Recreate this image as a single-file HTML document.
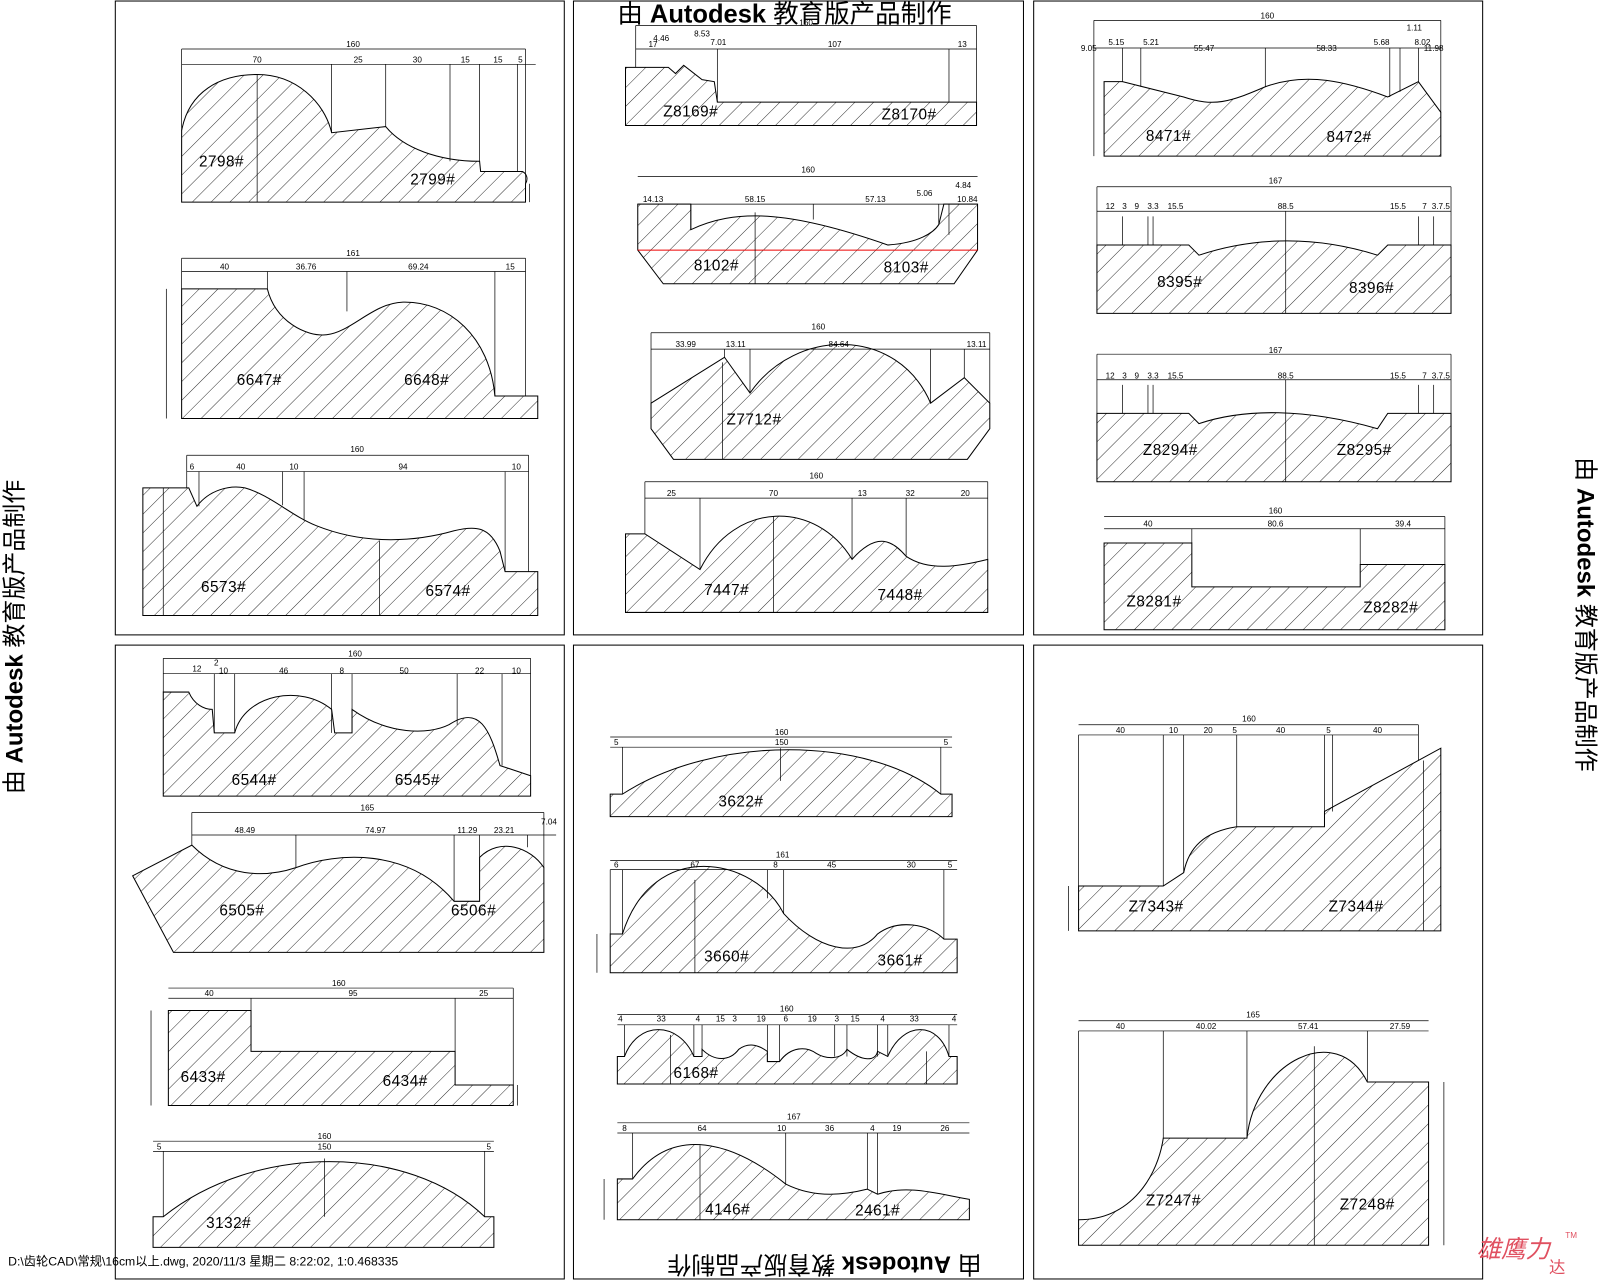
<!DOCTYPE html>
<html><head><meta charset="utf-8"><style>
html,body{margin:0;padding:0;background:#fff;width:1600px;height:1280px;overflow:hidden}
svg{display:block}
text{font-family:"Liberation Sans","Noto Sans CJK SC",sans-serif;fill:#000}
.l{font-size:15px;letter-spacing:0.5px}
.d{font-size:8px}
</style></head><body>
<svg width="1600" height="1280" viewBox="0 0 1568 1254" preserveAspectRatio="none" xmlns="http://www.w3.org/2000/svg">
<defs>
<pattern id="h" width="13" height="13" patternUnits="userSpaceOnUse" patternTransform="rotate(45)">
<line x1="0" y1="0" x2="0" y2="13" stroke="#000" stroke-width="0.8"/>
</pattern>
</defs>
<g fill="none" stroke="#000" stroke-width="1">
<rect x="113" y="1" width="440" height="621"/>
<rect x="562" y="1" width="441" height="621"/>
<rect x="1013" y="1" width="440" height="621"/>
<rect x="113" y="632" width="440" height="621"/>
<rect x="562" y="632" width="441" height="621"/>
<rect x="1013" y="632" width="440" height="621"/>
</g>

<g fill="url(#h)" stroke="#000" stroke-width="1">
<path d="M178,198 L178,128 C185,90 215,73 252,73 C290,73 318,100 325,130 L378,124 C395,145 430,158 470,158 L471,168 L512,168 C516,170 518,175 515,180 L515,198 Z"/>
<path d="M178,410 L178,283 L262,283 C270,315 300,330 320,328 C345,325 365,297 395,296 C440,295 480,330 485,388 L527,388 L527,410 Z"/>
<path d="M140,603 L140,478 L185,478 L193,496 C205,480 225,475 240,478 C265,485 285,505 310,515 C360,535 410,530 445,520 C465,515 480,515 490,540 L495,560 L527,560 L527,603 Z"/>
<path d="M613,123 L613,66 L655,66 L662,72 L670,64 L688,78 L700,80 L703,100 L930,100 L930,100 L957,100 L957,123 Z"/>
<path d="M625,245 L625,200 L677,200 L677,225 C720,205 770,205 870,240 C900,238 915,228 920,220 L925,200 L958,200 L958,245 L935,278 L650,278 Z"/>
<path d="M638,420 L638,395 L710,350 L735,385 C780,320 880,320 912,395 L945,370 L970,395 L970,420 L948,450 L660,450 Z"/>
<path d="M613,600 L613,523 L632,523 L686,558 C720,490 800,490 835,548 C860,520 875,530 888,545 C910,560 940,555 968,548 L968,600 Z"/>
<path d="M1082,153 L1082,80 L1100,80 L1160,95 C1190,105 1205,100 1240,85 C1280,70 1320,80 1360,95 L1390,80 L1412,110 L1412,153 Z"/>
<path d="M1075,307 L1075,240 L1165,240 L1175,250 C1220,235 1280,228 1350,250 L1360,240 L1422,240 L1422,307 Z"/>
<path d="M1075,472 L1075,405 L1165,405 L1175,415 C1220,400 1280,400 1350,420 L1360,405 L1422,405 L1422,472 Z"/>
<path d="M1082,617 L1082,532 L1168,532 L1168,575 L1333,575 L1333,553 L1416,553 L1416,617 Z"/>
<path d="M160,780 L160,678 L185,678 C190,690 200,695 208,695 L210,718 L230,718 C240,680 295,670 325,695 L328,718 L345,718 L345,695 C380,720 420,720 440,710 C470,690 480,715 490,750 L520,760 L520,780 Z"/>
<path d="M130,858 L188,828 C220,860 260,860 290,850 C330,835 400,830 445,883 L470,883 L470,840 C490,820 520,830 533,850 L533,933 L170,933 Z"/>
<path d="M165,1083 L165,990 L246,990 L246,1030 L446,1030 L446,1063 L503,1063 L503,1083 Z"/>
<path d="M150,1222 L150,1192 L160,1192 C250,1120 400,1120 475,1192 L484,1192 L484,1222 Z"/>
<path d="M598,800 L598,778 L610,778 C700,720 850,720 922,778 L933,778 L933,800 Z"/>
<path d="M598,953 L598,915 L610,915 C640,820 740,840 768,895 C800,930 840,940 860,915 C880,900 910,905 925,920 L938,920 L938,953 Z"/>
<path d="M605,1062 L605,1035 L612,1035 C625,1000 665,1000 680,1035 L688,1035 L688,1028 C700,1040 715,1040 724,1028 C735,1020 745,1025 752,1030 L752,1040 L764,1040 C775,1025 790,1025 800,1032 C810,1038 825,1038 830,1028 C845,1040 858,1040 860,1030 L870,1035 C885,1000 920,1000 930,1035 L938,1035 L938,1062 Z"/>
<path d="M605,1195 L605,1155 L620,1155 C660,1100 720,1120 770,1160 C800,1175 830,1170 850,1165 L860,1170 C890,1160 920,1170 950,1175 L950,1195 Z"/>
<path d="M1057,912 L1057,868 L1140,868 L1160,855 C1165,830 1180,815 1212,810 L1298,810 L1298,795 L1390,745 L1412,733 L1412,912 Z"/>
<path d="M1057,1220 L1057,1195 C1110,1195 1135,1150 1140,1115 L1222,1115 C1230,1040 1310,1000 1340,1060 L1400,1060 L1400,1220 Z"/>
</g>
<line x1="625" y1="245" x2="958" y2="245" stroke="#e00" stroke-width="1"/>

<g stroke="#000" stroke-width="0.7" fill="none">
<path d="M178,48H515 M178,63H525 M178,48V128 M515,48V198 M325,63V130 M378,63V124 M441,63V158 M470,63V158 M507,63V168 M252,73V198 M519,180V198"/>
<path d="M178,253H515 M178,266H515 M178,253V283 M515,253V388 M262,266V283 M340,266V305 M485,266V388 M163,283V410"/>
<path d="M183,446H518 M183,462H518 M183,446V478 M518,446V560 M195,462V496 M277,462V495 M298,462V510 M495,462V560 M160,478V603 M372,530V603"/>
<path d="M623,25H957 M623,48H957 M623,25V66 M957,25V100 M703,48V100 M930,48V100 M613,66V123"/>
<path d="M625,173H958 M625,200H958 M677,200V225 M797,200V215 M740,208V278 M920,200V220 M930,200V230"/>
<path d="M638,326H970 M638,342H970 M638,326V395 M970,326V395 M710,342V350 M735,342V385 M912,342V395 M945,342V370 M708,355V450"/>
<path d="M632,472H968 M632,488H968 M632,472V523 M968,472V548 M686,488V558 M835,488V548 M888,488V545 M758,506V600"/>
<path d="M1072,20H1412 M1072,47H1412 M1072,20V153 M1412,20V110 M1100,47V80 M1118,47V85 M1240,47V85 M1362,47V95 M1390,47V80 M1372,47V90"/>
<path d="M1075,183H1422 M1075,207H1422 M1075,183V240 M1422,183V240 M1260,207V307 M1100,212V240 M1125,212V240 M1130,212V240 M1390,212V240 M1405,212V240"/>
<path d="M1075,347H1422 M1075,372H1422 M1075,347V405 M1422,347V405 M1260,372V472 M1100,377V405 M1125,377V405 M1130,377V405 M1390,377V405 M1405,377V405"/>
<path d="M1082,506H1416 M1082,518H1416 M1168,518V532 M1333,518V553 M1416,506V553"/>
<path d="M160,645H520 M160,660H520 M160,645V678 M520,645V760 M210,660V718 M230,660V718 M325,660V718 M345,660V718 M448,660V710 M492,660V750"/>
<path d="M188,796H533 M188,818H545 M188,796V828 M533,796V850 M290,818V850 M445,818V883 M470,818V840 M517,818V830"/>
<path d="M165,968H503 M165,978H503 M246,978V990 M446,978V1030 M503,968V1063 M148,990V1083 M507,1063V1083"/>
<path d="M150,1118H484 M150,1128H484 M160,1128V1192 M475,1128V1192 M318,1135V1192"/>
<path d="M598,722H933 M598,732H933 M610,732V778 M922,732V778 M765,733V765"/>
<path d="M598,843H938 M598,852H938 M598,852V915 M610,852V915 M768,852V895 M752,852V880 M925,852V920 M681,862V953 M585,915V953"/>
<path d="M605,994H938 M605,1004H938 M612,1004V1035 M680,1004V1035 M688,1004V1035 M752,1004V1040 M764,1004V1040 M818,1004V1035 M830,1004V1035 M860,1004V1035 M870,1004V1035 M930,1004V1035 M657,1014V1062 M908,1030V1062"/>
<path d="M605,1100H950 M605,1110H950 M620,1110V1155 M770,1110V1160 M850,1110V1165 M860,1110V1170 M686,1122V1195 M592,1155V1195"/>
<path d="M1057,710H1390 M1057,720H1390 M1057,720V868 M1140,720V868 M1160,720V855 M1212,720V810 M1298,720V810 M1306,720V795 M1390,710V745 M1047,868V912 M1395,745V912"/>
<path d="M1057,1000H1400 M1057,1010H1400 M1057,1010V1195 M1140,1010V1115 M1222,1010V1115 M1340,1010V1060 M1288,1025V1220 M1415,1060V1220"/>
</g>

<g class="d" text-anchor="middle">
<text x="346" y="46">160</text><text x="252" y="61">70</text><text x="351" y="61">25</text><text x="409" y="61">30</text><text x="456" y="61">15</text><text x="488" y="61">15</text><text x="510" y="61">5</text>
<text x="346" y="251">161</text><text x="220" y="264">40</text><text x="300" y="264">36.76</text><text x="410" y="264">69.24</text><text x="500" y="264">15</text>
<text x="350" y="443">160</text><text x="188" y="460">6</text><text x="236" y="460">40</text><text x="288" y="460">10</text><text x="395" y="460">94</text><text x="506" y="460">10</text>
<text x="790" y="25">160</text><text x="640" y="46">17</text><text x="648" y="40">4.46</text><text x="688" y="36">8.53</text><text x="704" y="44">7.01</text><text x="818" y="46">107</text><text x="943" y="46">13</text>
<text x="792" y="169">160</text><text x="640" y="198">14.13</text><text x="740" y="198">58.15</text><text x="858" y="198">57.13</text><text x="906" y="192">5.06</text><text x="944" y="184">4.84</text><text x="948" y="198">10.84</text>
<text x="802" y="323">160</text><text x="672" y="340">33.99</text><text x="721" y="340">13.11</text><text x="822" y="340">84.64</text><text x="957" y="340">13.11</text>
<text x="800" y="469">160</text><text x="658" y="486">25</text><text x="758" y="486">70</text><text x="845" y="486">13</text><text x="892" y="486">32</text><text x="946" y="486">20</text>
<text x="1242" y="18">160</text><text x="1067" y="50">9.05</text><text x="1094" y="44">5.15</text><text x="1128" y="44">5.21</text><text x="1180" y="50">55.47</text><text x="1300" y="50">58.33</text><text x="1354" y="44">5.68</text><text x="1386" y="30">1.11</text><text x="1394" y="44">8.02</text><text x="1405" y="50">11.98</text>
<text x="1250" y="180">167</text><text x="1088" y="205">12</text><text x="1102" y="205">3</text><text x="1114" y="205">9</text><text x="1130" y="205">3.3</text><text x="1152" y="205">15.5</text><text x="1260" y="205">88.5</text><text x="1370" y="205">15.5</text><text x="1396" y="205">7</text><text x="1412" y="205">3.7.5</text>
<text x="1250" y="346">167</text><text x="1088" y="371">12</text><text x="1102" y="371">3</text><text x="1114" y="371">9</text><text x="1130" y="371">3.3</text><text x="1152" y="371">15.5</text><text x="1260" y="371">88.5</text><text x="1370" y="371">15.5</text><text x="1396" y="371">7</text><text x="1412" y="371">3.7.5</text>
<text x="1250" y="503">160</text><text x="1125" y="516">40</text><text x="1250" y="516">80.6</text><text x="1375" y="516">39.4</text>
<text x="348" y="643">160</text><text x="193" y="658">12</text><text x="212" y="652">2</text><text x="219" y="660">10</text><text x="278" y="660">46</text><text x="335" y="660">8</text><text x="396" y="660">50</text><text x="470" y="660">22</text><text x="506" y="660">10</text>
<text x="360" y="794">165</text><text x="240" y="816">48.49</text><text x="368" y="816">74.97</text><text x="458" y="816">11.29</text><text x="494" y="816">23.21</text><text x="538" y="808">7.04</text>
<text x="332" y="966">160</text><text x="205" y="976">40</text><text x="346" y="976">95</text><text x="474" y="976">25</text>
<text x="318" y="1116">160</text><text x="156" y="1126">5</text><text x="318" y="1126">150</text><text x="479" y="1126">5</text>
<text x="766" y="720">160</text><text x="604" y="730">5</text><text x="766" y="730">150</text><text x="927" y="730">5</text>
<text x="767" y="840">161</text><text x="604" y="850">6</text><text x="681" y="850">67</text><text x="760" y="850">8</text><text x="815" y="850">45</text><text x="893" y="850">30</text><text x="931" y="850">5</text>
<text x="771" y="991">160</text><text x="608" y="1001">4</text><text x="648" y="1001">33</text><text x="684" y="1001">4</text><text x="706" y="1001">15</text><text x="720" y="1001">3</text><text x="746" y="1001">19</text><text x="770" y="1001">6</text><text x="796" y="1001">19</text><text x="820" y="1001">3</text><text x="838" y="1001">15</text><text x="865" y="1001">4</text><text x="896" y="1001">33</text><text x="935" y="1001">4</text>
<text x="778" y="1097">167</text><text x="612" y="1108">8</text><text x="688" y="1108">64</text><text x="766" y="1108">10</text><text x="813" y="1108">36</text><text x="855" y="1108">4</text><text x="879" y="1108">19</text><text x="926" y="1108">26</text>
<text x="1224" y="707">160</text><text x="1098" y="718">40</text><text x="1150" y="718">10</text><text x="1184" y="718">20</text><text x="1210" y="718">5</text><text x="1255" y="718">40</text><text x="1302" y="718">5</text><text x="1350" y="718">40</text>
<text x="1228" y="997">165</text><text x="1098" y="1008">40</text><text x="1182" y="1008">40.02</text><text x="1282" y="1008">57.41</text><text x="1372" y="1008">27.59</text>
</g>

<g class="l">
<text x="195" y="163">2798#</text><text x="402" y="181">2799#</text>
<text x="232" y="377">6647#</text><text x="396" y="377">6648#</text>
<text x="197" y="580">6573#</text><text x="417" y="584">6574#</text>
<text x="650" y="114">Z8169#</text><text x="864" y="117">Z8170#</text>
<text x="680" y="265">8102#</text><text x="866" y="267">8103#</text>
<text x="712" y="416">Z7712#</text>
<text x="690" y="583">7447#</text><text x="860" y="588">7448#</text>
<text x="1123" y="138">8471#</text><text x="1300" y="139">8472#</text>
<text x="1134" y="281">8395#</text><text x="1322" y="287">8396#</text>
<text x="1120" y="446">Z8294#</text><text x="1310" y="446">Z8295#</text>
<text x="1104" y="594">Z8281#</text><text x="1336" y="600">Z8282#</text>
<text x="227" y="769">6544#</text><text x="387" y="769">6545#</text>
<text x="215" y="897">6505#</text><text x="442" y="897">6506#</text>
<text x="177" y="1060">6433#</text><text x="375" y="1064">6434#</text>
<text x="202" y="1203">3132#</text>
<text x="704" y="790">3622#</text>
<text x="690" y="942">3660#</text><text x="860" y="946">3661#</text>
<text x="660" y="1056">6168#</text>
<text x="691" y="1190">4146#</text><text x="838" y="1191">2461#</text>
<text x="1106" y="893">Z7343#</text><text x="1302" y="893">Z7344#</text>
<text x="1123" y="1181">Z7247#</text><text x="1313" y="1185">Z7248#</text>
</g>

<text x="605" y="22" font-size="25">由 <tspan font-weight="bold">Autodesk</tspan> 教育版产品制作</text>
<text transform="translate(22,778) rotate(-90)" font-size="23.5">由 <tspan font-weight="bold">Autodesk</tspan> 教育版产品制作</text>
<text transform="translate(1546,448) rotate(90)" font-size="23.5">由 <tspan font-weight="bold">Autodesk</tspan> 教育版产品制作</text>
<text transform="translate(962,1231) rotate(180)" font-size="23.5">由 <tspan font-weight="bold">Autodesk</tspan> 教育版产品制作</text>
<text x="8" y="1240" font-size="12">D:\齿轮CAD\常规\16cm以上.dwg, 2020/11/3 星期二 8:22:02, 1:0.468335</text>
<text x="1447" y="1232" font-size="24" style="fill:#e05060;font-style:italic">雄鹰力</text>
<text x="1518" y="1247" font-size="16" style="fill:#e05060">达</text>
<text x="1534" y="1213" font-size="8" style="fill:#e05060">TM</text>
</svg>
</body></html>
